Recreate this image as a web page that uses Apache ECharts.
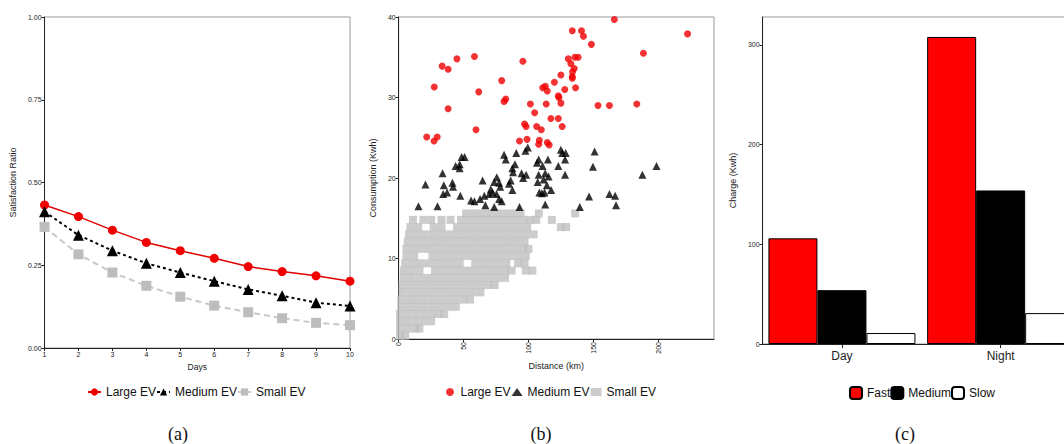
<!DOCTYPE html>
<html>
<head>
<meta charset="utf-8">
<script src="https://cdn.jsdelivr.net/npm/echarts@6/dist/echarts.min.js"></script>
<style>
  html, body { margin: 0; padding: 0; background: #fff; overflow: hidden; width: 1064px; height: 444px; }
  .panel { position: absolute; top: 0; height: 444px; }
</style>
</head>
<body>
<div id="chartA" class="panel" style="left:0;width:360px"></div>
<div id="chartB" class="panel" style="left:360px;width:360px"></div>
<div id="chartC" class="panel" style="left:720px;width:380px"></div>
<script>
// (a) satisfaction ratio by day
const days = [1, 2, 3, 4, 5, 6, 7, 8, 9, 10]
const largeRatio = [0.432, 0.397, 0.356, 0.319, 0.294, 0.271, 0.246, 0.231, 0.218, 0.202]
const mediumRatio = [0.412, 0.341, 0.294, 0.256, 0.228, 0.202, 0.177, 0.158, 0.137, 0.127]
const smallRatio = [0.366, 0.283, 0.228, 0.188, 0.155, 0.128, 0.108, 0.090, 0.076, 0.069]

// (b) distance (km) vs consumption (kwh)
const largePoints = [
  [21.6, 25.1], [27.2, 24.6], [29.7, 25.1], [27.4, 31.3], [33.5, 33.9], [38.1, 33.5], [38.1, 28.6],
  [44.9, 34.8], [58.4, 35.1], [59.6, 26.0], [61.7, 30.7], [79.4, 32.1], [81.2, 29.5], [82.5, 29.8],
  [95.7, 34.5], [93.1, 24.6], [97.0, 26.7], [98.2, 26.4], [98.9, 24.8], [101.5, 29.2], [104.8, 28.1],
  [106.3, 26.4], [108.4, 24.7], [107.9, 24.2], [109.9, 26.0], [111, 31.2], [113, 31.4], [114.5, 30.8],
  [113.7, 29.2], [114.5, 24.4], [116, 24.1], [117.3, 27.4], [120, 31.9], [123, 30.2], [123.5, 30.0],
  [123, 27.4], [125, 32.8], [125, 29.3], [126, 26.4], [128, 31.0], [130.7, 34.8], [132.7, 34.2],
  [133.8, 38.3], [133.8, 32.6], [133.8, 32.4], [134, 33.2], [135.3, 33.6], [135.8, 35.0], [136.3, 31.2],
  [138.3, 35.0], [140.9, 38.3], [142.4, 37.6], [148.5, 36.6], [153.6, 29.0], [162.4, 29.0],
  [166.2, 39.7], [183.5, 29.2], [188.6, 35.5], [222.6, 37.9]
]
const mediumPoints = [
  [15.2, 16.5], [20.6, 19.2], [29.9, 16.5], [33.8, 20.6], [34.8, 19.1], [34.3, 18.0], [37.3, 18.2],
  [41.4, 19.4], [41.9, 18.9], [43.9, 21.5], [47, 21.7], [47, 21.2], [48.5, 22.6], [50.8, 22.6],
  [47.5, 17.8], [55.8, 17.2], [58.4, 17.1], [62.7, 17.4], [66, 17.8], [64.7, 19.7], [66.8, 16.6],
  [69.8, 18.0], [72.3, 18.2], [71, 18.6], [73.6, 19.5], [75.6, 20.1], [77.4, 19.4], [75.4, 18.0],
  [73.6, 16.4], [78.2, 18.9], [77.4, 17.4], [79.4, 17.1], [81.2, 22.9], [82.5, 22.3], [85, 19.3],
  [86.3, 19.7], [87.6, 18.5], [87.6, 21.2], [88.1, 20.7], [89.6, 21.7], [90.6, 23.1], [93.1, 16.4],
  [94.7, 20.6], [95.9, 20.0], [98.2, 20.4], [97.7, 23.4], [99.5, 23.8], [106.6, 21.9], [107.9, 22.3],
  [107.1, 19.5], [107.9, 20.4], [108.4, 18.2], [110.4, 18.1], [112.4, 18.2], [110.9, 21.5],
  [112.9, 20.6], [111.7, 19.8], [114.2, 19.1], [115, 22.3], [112.9, 16.7], [115.5, 20.2],
  [117.5, 18.5], [123, 21.5], [125, 23.5], [126.1, 23.1], [128.7, 23.1], [128.2, 22.3], [128.2, 20.4],
  [139.6, 16.4], [146.7, 17.7], [149.7, 21.4], [151, 23.3], [162.4, 18.0], [166.8, 17.8],
  [167.5, 16.6], [187.8, 20.4], [198.7, 21.5]
]
// small EV cloud, read row by row: [consumption, distances]
const smallRows = [
  [0.4, [1, 5]],
  [1.3, [1, 7, 13, 16]],
  [2.2, [1, 7, 13, 19, 25]],
  [3.1, [1, 7, 13, 19, 25, 31, 35]],
  [4.0, [2, 8, 14, 20, 26, 32, 38, 44]],
  [4.9, [2, 8, 14, 20, 26, 32, 38, 44, 50, 55]],
  [5.8, [3, 9, 15, 21, 27, 33, 39, 45, 51, 57, 63]],
  [6.7, [3, 9, 15, 21, 27, 33, 39, 45, 51, 57, 63, 69, 74]],
  [7.6, [4, 10, 16, 22, 28, 34, 40, 46, 52, 58, 64, 70, 76, 82]],
  [8.5, [4, 10, 16, 28, 34, 40, 46, 52, 58, 64, 70, 76, 82, 87, 98, 103]],
  [9.4, [5, 11, 17, 23, 29, 35, 41, 47, 59, 65, 71, 77, 83, 92, 97]],
  [10.3, [6, 12, 26, 32, 38, 44, 50, 56, 62, 68, 74, 80, 86, 92, 98]],
  [11.2, [6, 12, 18, 24, 30, 36, 42, 48, 54, 60, 66, 72, 78, 84, 90, 96, 100]],
  [12.1, [7, 13, 19, 25, 31, 37, 43, 49, 55, 61, 67, 73, 79, 85, 91, 97]],
  [13.0, [8, 14, 20, 26, 32, 38, 44, 50, 56, 62, 68, 74, 80, 86, 92, 98, 104]],
  [13.9, [9, 15, 27, 33, 45, 51, 57, 63, 69, 75, 81, 87, 93, 99, 125, 129]],
  [14.8, [11, 19, 25, 33, 40, 48, 54, 60, 66, 72, 78, 84, 90, 96, 101, 106, 118]],
  [15.6, [52, 58, 64, 70, 76, 82, 88, 94, 108, 136]]
]
const distTicks = [0, 50, 100, 150, 200]

// (c) charge by period
const periods = ['Day', 'Night']
const fastCharge = [106, 308]
const mediumCharge = [54, 154]
const slowCharge = [11, 31]
const chargeTicks = [0, 100, 200, 300]

const FONT = 'Liberation Sans, Arial, sans-serif'
const tickLabel = { fontSize: 7, color: '#222', fontFamily: FONT, margin: 3 }
const axisLine = { show: true, lineStyle: { color: '#222', width: 1 } }
const axisTick = { show: true, length: 3, lineStyle: { color: '#222' } }
const nameStyle = { fontSize: 9, color: '#222', fontFamily: FONT }
const legendText = { fontSize: 12, color: '#111', fontFamily: FONT }

function caption(x, text) {
  return {
    type: 'text', x: x, y: 434,
    style: { text: text, fontSize: 18, fontFamily: 'Liberation Serif, Times New Roman, serif', fill: '#111', align: 'center', verticalAlign: 'middle' }
  }
}

const pair = (xs, ys) => xs.map((x, i) => [x, ys[i]])

// ---- (a)
const chartA = echarts.init(document.getElementById('chartA'), null, { renderer: 'svg' })
chartA.setOption({
  animation: false,
  grid: { left: 37, top: 17, width: 313, height: 331, show: true, borderColor: '#999', borderWidth: 1 },
  xAxis: {
    type: 'value', min: 1, max: 10, interval: 1,
    name: 'Days', nameLocation: 'middle', nameGap: 13, nameTextStyle: { ...nameStyle, fontSize: 8.5 },
    axisLine, axisTick, axisLabel: tickLabel, splitLine: { show: false }
  },
  yAxis: {
    type: 'value', min: 0, max: 1, interval: 0.25,
    name: 'Satisfaction Ratio', nameLocation: 'middle', nameGap: 20, nameTextStyle: nameStyle,
    axisLine, axisTick,
    axisLabel: { ...tickLabel, formatter: (v) => v.toFixed(2) },
    splitLine: { show: false }
  },
  legend: {
    left: 82, top: 381, itemWidth: 13, itemHeight: 9, itemGap: 0,
    textStyle: legendText,
    data: ['Large EV', 'Medium EV', 'Small EV']
  },
  graphic: [caption(178, '(a)')],
  series: [
    {
      name: 'Large EV', type: 'line', data: pair(days, largeRatio),
      symbol: 'circle', symbolSize: 9,
      lineStyle: { color: '#e00000', width: 1.5 }, itemStyle: { color: '#f00000' }
    },
    {
      name: 'Medium EV', type: 'line', data: pair(days, mediumRatio),
      symbol: 'triangle', symbolSize: 11,
      lineStyle: { color: '#000', width: 2, type: [3, 3] }, itemStyle: { color: '#000' }
    },
    {
      name: 'Small EV', type: 'line', data: pair(days, smallRatio),
      symbol: 'rect', symbolSize: 10,
      lineStyle: { color: '#c8c8c8', width: 2, type: [6, 4] }, itemStyle: { color: '#bdbdbd' }
    }
  ]
})

// ---- (b)
const smallPoints = []
for (const [c, xs] of smallRows) {
  for (const d of xs) smallPoints.push([d, c])
}
const chartB = echarts.init(document.getElementById('chartB'), null, { renderer: 'svg' })
chartB.setOption({
  animation: false,
  grid: { left: 35, top: 17, width: 319, height: 322, show: true, borderColor: '#999', borderWidth: 1 },
  xAxis: {
    type: 'value', min: 0, max: 243, interval: 50,
    name: 'Distance (km)', nameLocation: 'middle', nameGap: 22, nameTextStyle: nameStyle,
    axisLine,
    axisTick: { ...axisTick, customValues: distTicks },
    axisLabel: { ...tickLabel, rotate: 90, customValues: distTicks },
    splitLine: { show: false }
  },
  yAxis: {
    type: 'value', min: 0, max: 40, interval: 10,
    name: 'Consumption (Kwh)', nameLocation: 'middle', nameGap: 13, nameTextStyle: nameStyle,
    axisLine, axisTick, axisLabel: tickLabel, splitLine: { show: false }
  },
  legend: {
    left: 81, top: 381, itemWidth: 11, itemHeight: 8, itemGap: 1,
    textStyle: legendText,
    data: ['Large EV', 'Medium EV', 'Small EV']
  },
  graphic: [caption(181, '(b)')],
  series: [
    {
      name: 'Small EV', type: 'scatter', data: smallPoints, symbol: 'rect', symbolSize: 8,
      itemStyle: { color: '#bfbfbf' }, z: 1
    },
    {
      name: 'Medium EV', type: 'scatter', data: mediumPoints, symbol: 'triangle', symbolSize: 8,
      itemStyle: { color: '#000' }, z: 2
    },
    {
      name: 'Large EV', type: 'scatter', data: largePoints, symbol: 'circle', symbolSize: 7,
      itemStyle: { color: '#f00000' }, z: 3
    }
  ]
})

// ---- (c)
const chartC = echarts.init(document.getElementById('chartC'), null, { renderer: 'svg' })
chartC.setOption({
  animation: false,
  grid: { left: 40, top: 17, width: 320, height: 327, show: true, borderColor: '#999', borderWidth: 1 },
  xAxis: {
    type: 'category', data: periods,
    axisLine,
    axisTick: { show: true, alignWithLabel: true, length: 4, lineStyle: { color: '#222' } },
    axisLabel: { fontSize: 12, color: '#222', fontFamily: FONT, margin: 6 }
  },
  yAxis: {
    type: 'value', min: 0, max: 328, interval: 100,
    name: 'Charge (Kwh)', nameLocation: 'middle', nameGap: 14, nameTextStyle: nameStyle,
    axisLine,
    axisTick: { ...axisTick, customValues: chargeTicks },
    axisLabel: { ...tickLabel, customValues: chargeTicks },
    splitLine: { show: false }
  },
  legend: {
    left: 124, top: 381, itemWidth: 12, itemHeight: 12, itemGap: 0,
    textStyle: legendText,
    data: ['Fast', 'Medium', 'Slow']
  },
  graphic: [caption(185, '(c)')],
  series: [
    {
      name: 'Fast', type: 'bar', data: fastCharge, barWidth: 49, barGap: '0%',
      itemStyle: { color: '#ff0000', borderColor: '#000', borderWidth: 1 }
    },
    {
      name: 'Medium', type: 'bar', data: mediumCharge, barWidth: 49,
      itemStyle: { color: '#000', borderColor: '#000', borderWidth: 1 }
    },
    {
      name: 'Slow', type: 'bar', data: slowCharge, barWidth: 49,
      itemStyle: { color: '#fff', borderColor: '#000', borderWidth: 1 }
    }
  ]
})
</script>
</body>
</html>
